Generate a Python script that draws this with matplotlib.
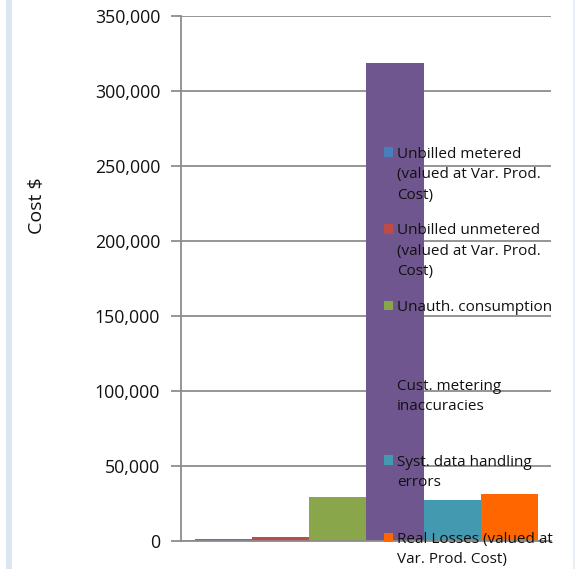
import matplotlib
matplotlib.use("Agg")
import matplotlib.pyplot as plt
from matplotlib.patches import Rectangle
from matplotlib.ticker import FuncFormatter

labels = [
    "Unbilled metered\n(valued at Var. Prod.\nCost)",
    "Unbilled unmetered\n(valued at Var. Prod.\nCost)",
    "Unauth. consumption",
    "Cust. metering\ninaccuracies",
    "Syst. data handling\nerrors",
    "Real Losses (valued at\nVar. Prod. Cost)",
]
values = [1500, 2900, 29500, 318800, 27300, 31500]
colors = ["#4A7EBB", "#BE4B48", "#8AA64B", "#6F568E", "#4299B0", "#FF6600"]
yticks = [0, 50000, 100000, 150000, 200000, 250000, 300000, 350000]

plt.rcParams["font.family"] = ["Open Sans", "DejaVu Sans"]
W, H = 575, 569
fig = plt.figure(figsize=(W / 100, H / 100), dpi=100)

ax = fig.add_axes([181 / W, 1 - 541 / H, (551 - 181) / W, (541 - 16) / H])
x = list(range(len(values)))
ax.bar(x, values, width=1.0, color=colors, zorder=2)
ax.set_xlim(-0.745, 5.73)
ax.set_ylim(0, 350000)
ax.set_yticks(yticks)
ax.yaxis.set_major_formatter(FuncFormatter(lambda v, p: f"{int(v):,}"))
ax.set_xticks([])
ax.grid(axis="y", color="#8c8c8c", linewidth=1.3, zorder=0)
for s in ["top", "right"]:
    ax.spines[s].set_visible(False)
for s in ["left", "bottom"]:
    ax.spines[s].set_color("#8c8c8c")
    ax.spines[s].set_linewidth(1.3)
ax.tick_params(axis="y", length=7, width=1.3, color="#8c8c8c", pad=8,
               labelsize=12.8, labelcolor="#111111")
ax.set_ylabel("Cost $", fontsize=14, color="#111111")
ax.yaxis.set_label_coords(46 / W, 1 - 206 / H, transform=fig.transFigure)

# left decorative stripe
fig.patches.append(Rectangle((6 / W, 0), 6 / W, 1, transform=fig.transFigure,
                             facecolor="#DCE6F1", edgecolor="none", zorder=0))
fig.patches.append(Rectangle((573 / W, 0), 2 / W, 1, transform=fig.transFigure,
                             facecolor="#E8EEF6", edgecolor="none", zorder=0))

# legend (Excel-style, evenly spaced entries)
entry_y = [152, 229, 305.5, 384, 460, 537.5]
for lab, col, yy in zip(labels, colors, entry_y):
    fig.patches.append(Rectangle((383.5 / W, 1 - (yy + 4.8) / H), 9.5 / W, 9.5 / H,
                                 transform=fig.transFigure, facecolor=col,
                                 edgecolor="none", zorder=5))
    fig.text(397 / W, 1 - (yy - 5.5) / H, lab, ha="left", va="top", fontsize=11,
             color="#111111", linespacing=1.5, zorder=6)

fig.savefig("out.png", dpi=100)
